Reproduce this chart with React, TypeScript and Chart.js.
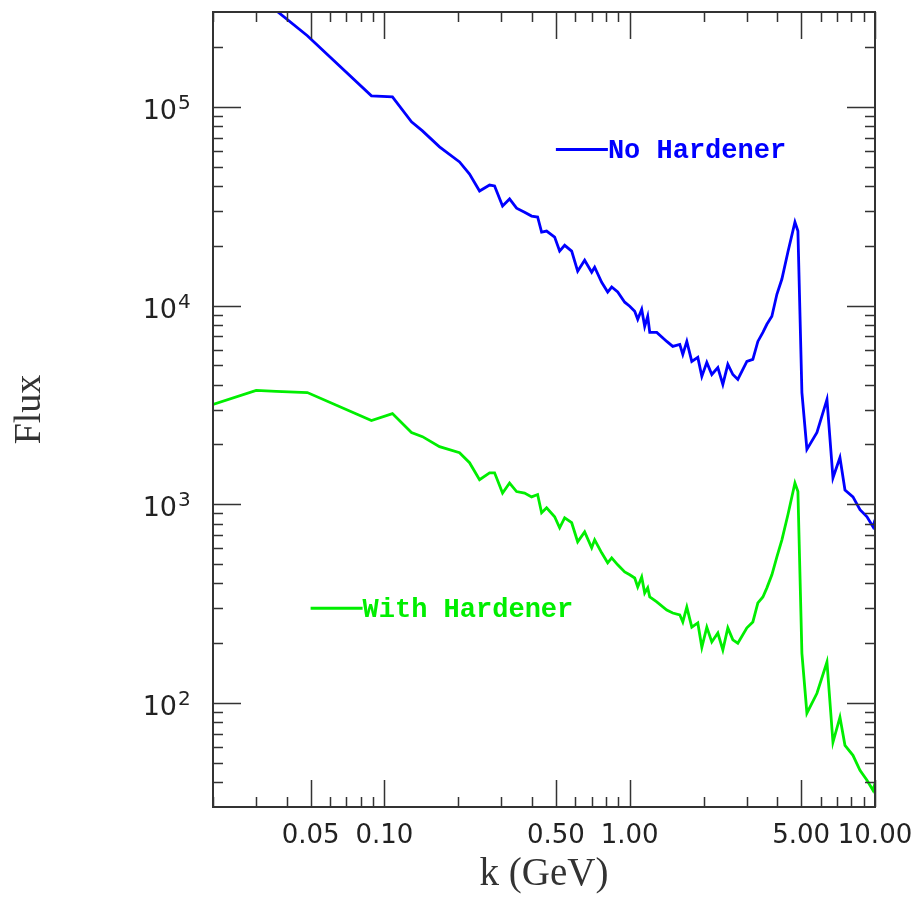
import React, { useEffect, useRef } from 'react';
import { Chart, registerables } from 'chart.js';

Chart.register(...registerables);

// Photon energy k (GeV), shared by both spectra
const kGeV = [
  0.02, 0.03, 0.0362, 0.0485, 0.0885, 0.1078, 0.1289, 0.1429, 0.1677, 0.2024,
  0.2223, 0.2442, 0.2683, 0.2812, 0.3031, 0.3237, 0.3457, 0.3727, 0.3981, 0.4212,
  0.4373, 0.4583, 0.4942, 0.5179, 0.5429, 0.5799, 0.6135, 0.655, 0.6996, 0.7196,
  0.7685, 0.8131, 0.8443, 0.8934, 0.9541, 1.0, 1.048, 1.078, 1.119, 1.151,
  1.184, 1.207, 1.289, 1.416, 1.498, 1.6, 1.646, 1.709, 1.791, 1.895,
  1.968, 2.062, 2.161, 2.287, 2.397, 2.512, 2.633, 2.759, 3.004, 3.177,
  3.33, 3.491, 3.624, 3.798, 3.981, 4.173, 4.415, 4.716, 4.85, 5.035,
  5.277, 5.799, 6.37, 6.739, 7.196, 7.543, 8.131, 8.686, 9.275, 9.813, 10.0,
];

const fluxNoHardener = [
  591000, 376000, 305000, 228000, 113600, 112300, 84000, 75700, 62900, 52800,
  45900, 37700, 40400, 40000, 31700, 34400, 30900, 29500, 28200, 27900,
  23400, 23700, 22100, 18800, 20100, 18800, 14900, 16900, 14700, 15600,
  13100, 11700, 12400, 11700, 10400, 9920, 9360, 8530, 9580, 7860,
  8830, 7330, 7330, 6600, 6230, 6380, 5680, 6600, 5240, 5490,
  4400, 5180, 4500, 4880, 4010, 5060, 4500, 4250, 5240, 5360,
  6600, 7330, 8050, 8830, 11400, 13600, 18600, 26300, 23700, 3650,
  1890, 2300, 3370, 1360, 1720, 1180, 1090, 939, 866, 771, 836,
];

const fluxWithHardener = [
  3180, 3740, 3700, 3650, 2640, 2860, 2300, 2190, 1950, 1820,
  1620, 1330, 1440, 1440, 1140, 1280, 1160, 1140, 1090, 1120,
  907, 961, 866, 762, 856, 808, 648, 727, 604, 663,
  570, 508, 538, 496, 457, 442, 426, 384, 431, 358,
  380, 342, 323, 294, 284, 278, 256, 304, 241, 253,
  191, 241, 203, 225, 185, 239, 208, 200, 239, 256,
  319, 342, 380, 442, 544, 663, 886, 1280, 1160, 178,
  88.9, 112, 161, 63.5, 84.9, 61.3, 54.6, 45.9, 40.9, 36.4, 39.4,
];

const xMajorTicks = [0.05, 0.1, 0.5, 1, 5, 10];
const xMinorTicks = [
  0.02, 0.03, 0.04, 0.06, 0.07, 0.08, 0.09,
  0.2, 0.3, 0.4, 0.6, 0.7, 0.8, 0.9,
  2, 3, 4, 6, 7, 8, 9,
];
const yMajorTicks = [100, 1000, 10000, 100000];
const yMinorTicks = [
  40, 50, 60, 70, 80, 90,
  200, 300, 400, 500, 600, 700, 800, 900,
  2000, 3000, 4000, 5000, 6000, 7000, 8000, 9000,
  20000, 30000, 40000, 50000, 60000, 70000, 80000, 90000,
  200000,
];

const seriesLabels = ['No Hardener', 'With Hardener'];
const seriesColors = ['#0000ff', '#00ee00'];
const legendAnchorK = [0.5, 0.05];
const legendAnchorFlux = [61000, 300];

const framePlugin = {
  id: 'frameTicks',
  afterDraw(chart: any) {
    const { ctx, chartArea: a, scales } = chart;
    const xs = scales.x;
    const ys = scales.y;
    ctx.save();
    ctx.strokeStyle = '#333';
    ctx.lineWidth = 1.5;
    const drawX = (v: number, len: number) => {
      const px = Math.round(xs.getPixelForValue(v)) + 0.5;
      ctx.beginPath();
      ctx.moveTo(px, a.bottom);
      ctx.lineTo(px, a.bottom - len);
      ctx.moveTo(px, a.top);
      ctx.lineTo(px, a.top + len);
      ctx.stroke();
    };
    const drawY = (v: number, len: number) => {
      const py = Math.round(ys.getPixelForValue(v)) + 0.5;
      ctx.beginPath();
      ctx.moveTo(a.left, py);
      ctx.lineTo(a.left + len, py);
      ctx.moveTo(a.right, py);
      ctx.lineTo(a.right - len, py);
      ctx.stroke();
    };
    xMinorTicks.forEach((v) => drawX(v, 10));
    xMajorTicks.forEach((v) => drawX(v, 27));
    yMinorTicks.forEach((v) => drawY(v, 10));
    yMajorTicks.forEach((v) => drawY(v, 28));

    ctx.lineWidth = 2;
    ctx.strokeRect(a.left, a.top, a.right - a.left, a.bottom - a.top);

    // y tick labels with exponents
    ctx.fillStyle = '#222';
    ctx.textBaseline = 'alphabetic';
    yMajorTicks.forEach((v) => {
      const py = ys.getPixelForValue(v);
      const exp = String(Math.round(Math.log10(v)));
      ctx.font = '27px "DejaVu Sans"';
      ctx.textAlign = 'right';
      ctx.fillText('10', a.left - 36, py + 12);
      ctx.font = '20px "DejaVu Sans"';
      ctx.textAlign = 'left';
      ctx.fillText(exp, a.left - 35, py + 2);
    });

    // in-plot legend
    seriesLabels.forEach((label, i) => {
      const x0 = xs.getPixelForValue(legendAnchorK[i]);
      const y0 = ys.getPixelForValue(legendAnchorFlux[i]);
      ctx.strokeStyle = seriesColors[i];
      ctx.lineWidth = 2.8;
      ctx.beginPath();
      ctx.moveTo(x0, y0);
      ctx.lineTo(x0 + 52, y0);
      ctx.stroke();
      ctx.fillStyle = seriesColors[i];
      ctx.font = 'bold 27px "Liberation Mono"';
      ctx.textAlign = 'left';
      ctx.textBaseline = 'middle';
      ctx.fillText(label, x0 + 52, y0 + 2);
    });
    ctx.restore();
  },
};

export default function App() {
  const canvasRef = useRef<HTMLCanvasElement | null>(null);

  useEffect(() => {
    const canvas = canvasRef.current;
    if (!canvas) return;
    const chart = new Chart(canvas, {
      type: 'line',
      data: {
        datasets: [
          {
            label: seriesLabels[0],
            data: kGeV.map((k, i) => ({ x: k, y: fluxNoHardener[i] })),
            borderColor: seriesColors[0],
            borderWidth: 2.8,
            pointRadius: 0,
            fill: false,
            tension: 0,
          },
          {
            label: seriesLabels[1],
            data: kGeV.map((k, i) => ({ x: k, y: fluxWithHardener[i] })),
            borderColor: seriesColors[1],
            borderWidth: 2.8,
            pointRadius: 0,
            fill: false,
            tension: 0,
          },
        ],
      },
      options: {
        animation: false,
        responsive: false,
        devicePixelRatio: 1,
        layout: { padding: { top: 12, right: 41, bottom: 0, left: 0 } },
        plugins: { legend: { display: false }, tooltip: { enabled: false } },
        scales: {
          x: {
            type: 'logarithmic',
            position: 'bottom',
            min: 0.02,
            max: 10,
            afterBuildTicks: (s: any) => {
              s.ticks = xMajorTicks.map((v) => ({ value: v }));
            },
            afterFit: (s: any) => {
              s.height = 91;
              s.paddingLeft = 0;
              s.paddingRight = 0;
            },
            grid: { display: false, drawTicks: false },
            border: { display: false },
            ticks: {
              autoSkip: false,
              maxRotation: 0,
              minRotation: 0,
              padding: 14,
              color: '#222',
              font: { family: 'DejaVu Sans', size: 26 },
              callback: (v: any) => Number(v).toFixed(2),
            },
            title: {
              display: true,
              text: 'k (GeV)',
              color: '#333',
              font: { family: 'Liberation Serif', size: 39 },
              padding: { top: 0, bottom: 0 },
            },
          },
          y: {
            type: 'logarithmic',
            position: 'left',
            min: 30,
            max: 300000,
            afterBuildTicks: (s: any) => {
              s.ticks = yMajorTicks.map((v) => ({ value: v }));
            },
            afterFit: (s: any) => {
              s.width = 213;
              s.paddingTop = 0;
              s.paddingBottom = 0;
            },
            grid: { display: false, drawTicks: false },
            border: { display: false },
            ticks: { display: false },
            title: {
              display: true,
              text: 'Flux',
              color: '#333',
              font: { family: 'Liberation Serif', size: 38 },
              padding: { top: 7, bottom: 0 },
            },
          },
        },
      } as any,
      plugins: [framePlugin],
    });
    return () => chart.destroy();
  }, []);

  return (
    <div style={{ position: 'absolute', left: 0, top: 0, width: 916, height: 898, background: '#fff' }}>
      <canvas ref={canvasRef} width={916} height={898} style={{ display: 'block' }} />
    </div>
  );
}
